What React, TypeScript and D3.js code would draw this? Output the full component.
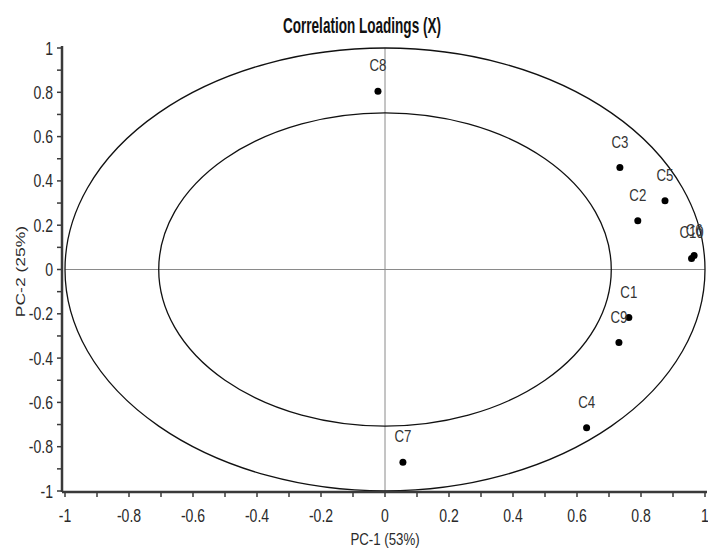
import React, {useEffect, useRef} from 'react';
import * as d3 from 'd3';

// loadings
const names = ['C1', 'C2', 'C3', 'C4', 'C5', 'C6', 'C7', 'C8', 'C9', 'C10'];
const pc1 = [0.762, 0.79, 0.734, 0.63, 0.875, 0.966, 0.056, -0.022, 0.731, 0.958];
const pc2 = [-0.217, 0.22, 0.46, -0.715, 0.31, 0.063, -0.87, 0.805, -0.33, 0.05];

const majorTicks = [-1, -0.8, -0.6, -0.4, -0.2, 0, 0.2, 0.4, 0.6, 0.8, 1];
const minorTicks = d3.range(-10, 11).map(i => i / 10);
const radii = [1, Math.SQRT1_2];

const title = 'Correlation Loadings (X)';
const xTitle = 'PC-1 (53%)';
const yTitle = 'PC-2 (25%)';

export default function App() {
  const ref = useRef<SVGSVGElement>(null);

  useEffect(() => {
    const svg = d3.select(ref.current);
    svg.selectAll('*').remove();

    const sans = '"Liberation Sans", Arial, sans-serif';
    const squash = 0.78; // the picture's text is narrow

    const x = d3.scaleLinear().domain([-1, 1]).range([65, 705]);
    const y = d3.scaleLinear().domain([-1, 1]).range([491, 48]);
    const axisX = 62, axisY = 492;

    svg.append('rect').attr('width', 708).attr('height', 550).attr('fill', '#fff');

    // title
    svg.append('text')
      .attr('x', 362).attr('y', 33)
      .attr('text-anchor', 'middle')
      .attr('font-family', sans).attr('font-weight', 'bold').attr('font-size', 22)
      .attr('textLength', 158).attr('lengthAdjust', 'spacingAndGlyphs')
      .attr('fill', '#111')
      .text(title);

    // crosshair
    svg.append('line')
      .attr('x1', x(-1)).attr('x2', x(1)).attr('y1', y(0)).attr('y2', y(0))
      .attr('stroke', '#8a8a8a').attr('stroke-width', 1);
    svg.append('line')
      .attr('x1', x(0)).attr('x2', x(0)).attr('y1', y(-1)).attr('y2', y(1))
      .attr('stroke', '#8a8a8a').attr('stroke-width', 1);

    // circles of explained variance (ellipses on screen)
    svg.append('g').selectAll('ellipse').data(radii).enter().append('ellipse')
      .attr('cx', x(0)).attr('cy', y(0))
      .attr('rx', r => x(r) - x(0))
      .attr('ry', r => y(0) - y(r))
      .attr('fill', 'none').attr('stroke', '#111').attr('stroke-width', 1.3);

    // axes
    const ax = svg.append('g').attr('stroke', '#3a3a3a');
    ax.append('line').attr('x1', axisX).attr('x2', x(1) + 2).attr('y1', axisY).attr('y2', axisY).attr('stroke-width', 2.5);
    ax.append('line').attr('x1', axisX).attr('x2', axisX).attr('y1', y(1) - 2).attr('y2', axisY).attr('stroke-width', 2.5);
    ax.selectAll('.tx').data(minorTicks).enter().append('line')
      .attr('x1', d => x(d)).attr('x2', d => x(d)).attr('y1', axisY).attr('y2', axisY + 5)
      .attr('stroke-width', 1.5);
    ax.selectAll('.ty').data(minorTicks).enter().append('line')
      .attr('y1', d => y(d)).attr('y2', d => y(d)).attr('x1', axisX).attr('x2', axisX - 5)
      .attr('stroke-width', 1.5);

    const fmt = (d: number) => (d === 0 ? '0' : String(d));
    svg.append('g').selectAll('text').data(majorTicks).enter().append('text')
      .attr('transform', d => `translate(${x(d)},${axisY + 30}) scale(${squash},1)`)
      .attr('text-anchor', 'middle')
      .attr('font-family', sans).attr('font-size', 18).attr('fill', '#2a2a2a')
      .text(fmt);
    svg.append('g').selectAll('text').data(majorTicks).enter().append('text')
      .attr('transform', d => `translate(${axisX - 9},${y(d) + 6.5}) scale(${squash},1)`)
      .attr('text-anchor', 'end')
      .attr('font-family', sans).attr('font-size', 18).attr('fill', '#2a2a2a')
      .text(fmt);

    svg.append('text')
      .attr('transform', `translate(${x(0)},545) scale(${squash},1)`)
      .attr('text-anchor', 'middle')
      .attr('font-family', sans).attr('font-size', 17).attr('fill', '#2a2a2a')
      .text(xTitle);
    svg.append('text')
      .attr('transform', `translate(25,${y(0) + 2}) rotate(-90) scale(1,${squash})`)
      .attr('text-anchor', 'middle')
      .attr('font-family', sans).attr('font-size', 17.5).attr('fill', '#2a2a2a')
      .text(yTitle);

    // points and labels
    const pts = names.map((n, i) => ({name: n, px: pc1[i], py: pc2[i]}));
    const g = svg.append('g');
    g.selectAll('circle').data(pts).enter().append('circle')
      .attr('cx', d => x(d.px)).attr('cy', d => y(d.py))
      .attr('r', 3.5).attr('fill', '#000');
    g.selectAll('text').data(pts).enter().append('text')
      .attr('transform', d => `translate(${x(d.px)},${y(d.py) - 20}) scale(${squash},1)`)
      .attr('text-anchor', 'middle')
      .attr('font-family', sans).attr('font-size', 17).attr('fill', '#333')
      .text(d => d.name);
  }, []);

  return (
    <svg ref={ref} width={708} height={550} style={{position: 'absolute', left: 0, top: 0}} />
  );
}
